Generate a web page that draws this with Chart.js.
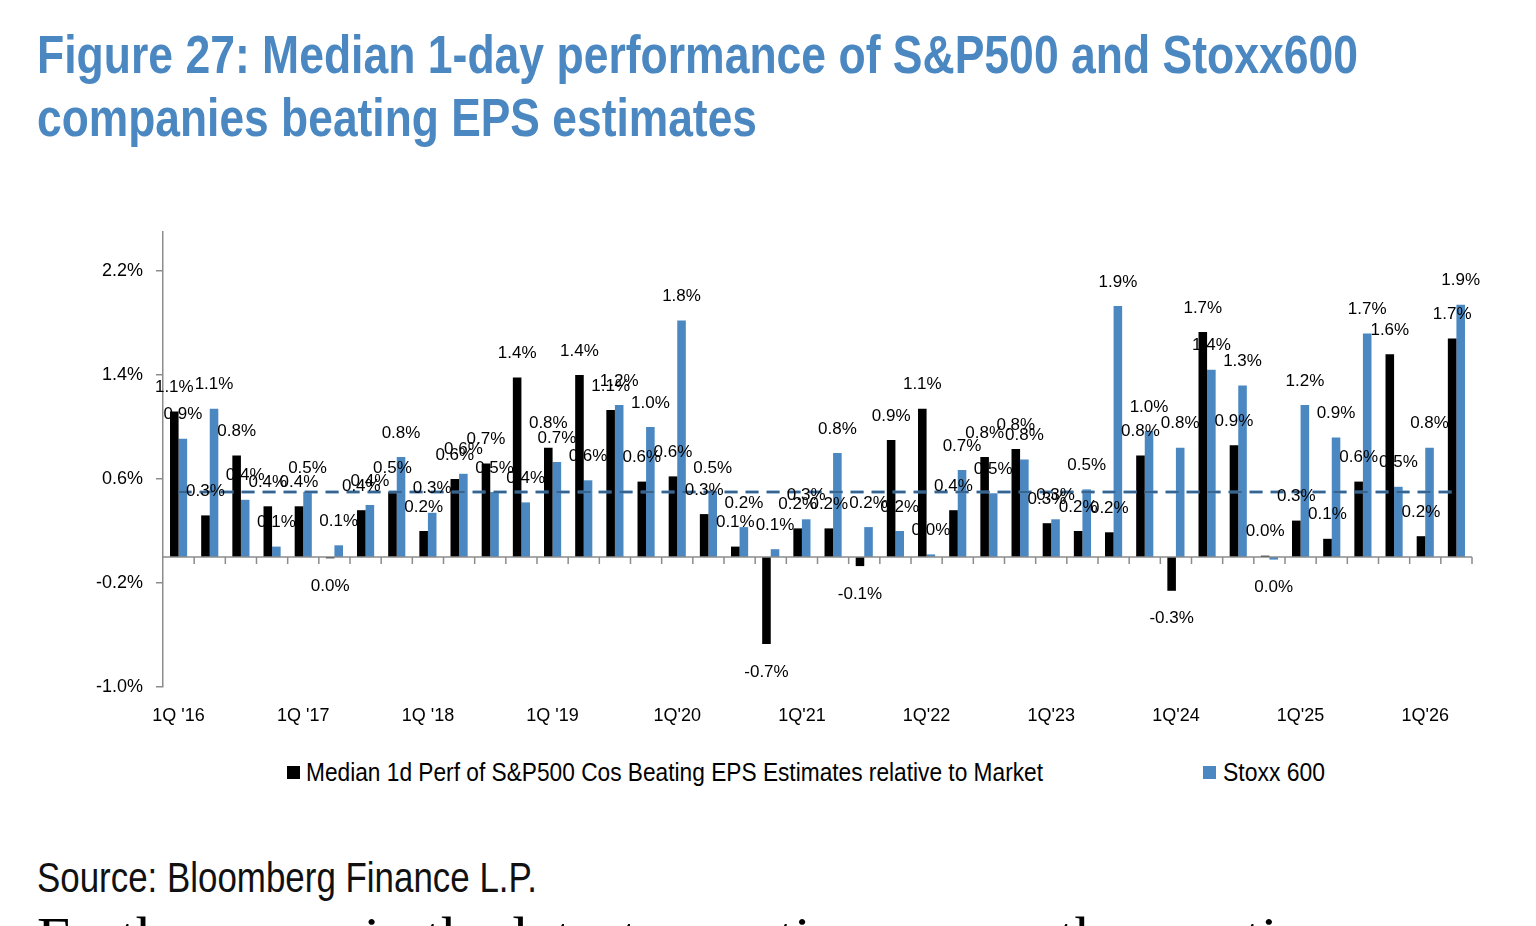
<!DOCTYPE html>
<html>
<head>
<meta charset="utf-8">
<script src="https://cdn.jsdelivr.net/npm/chart.js@4.4.1/dist/chart.umd.min.js"></script>
<style>
  html, body { margin: 0; padding: 0; background: #fff; }
  body { width: 1536px; height: 926px; position: relative; overflow: hidden; }
  .narrow {
    position: absolute;
    white-space: nowrap;
    font-family: "Liberation Sans Narrow", "Arial Narrow", "Liberation Sans", Arial, sans-serif;
    transform-origin: 0 50%;
  }
  .title { left: 37px; color: #4b88c2; font-weight: bold; font-size: 54px; line-height: 54px; }
  .legend { font-size: 26px; line-height: 26px; color: #000; top: 759px; }
  .legsq { position: absolute; width: 13px; height: 13px; top: 766px; }
  #source { left: 37px; top: 857px; font-size: 42px; line-height: 42px; color: #111; }
  #below {
    position: absolute; left: 37px; top: 910px; white-space: nowrap; transform-origin: 0 50%;
    font-family: "Liberation Serif", "Times New Roman", serif; font-size: 54px; line-height: 54px; color: #000;
  }
  #chart { position: absolute; left: 0; top: 200px; }
</style>
</head>
<body>
<div id="t1" class="narrow title" style="top:27px">Figure 27: Median 1-day performance of S&amp;P500 and Stoxx600</div>
<div id="t2" class="narrow title" style="top:90px">companies beating EPS estimates</div>
<canvas id="chart" width="1500" height="545"></canvas>
<div id="source" class="narrow">Source: Bloomberg Finance L.P.</div>
<div id="below">Furthermore, in the latest reporting season the reaction</div>

<script>
// quarters 1Q'16 .. 2Q'26
var quarters = [
  "1Q '16", "2Q '16", "3Q '16", "4Q '16",
  "1Q '17", "2Q '17", "3Q '17", "4Q '17",
  "1Q '18", "2Q '18", "3Q '18", "4Q '18",
  "1Q '19", "2Q '19", "3Q '19", "4Q '19",
  "1Q'20", "2Q'20", "3Q'20", "4Q'20",
  "1Q'21", "2Q'21", "3Q'21", "4Q'21",
  "1Q'22", "2Q'22", "3Q'22", "4Q'22",
  "1Q'23", "2Q'23", "3Q'23", "4Q'23",
  "1Q'24", "2Q'24", "3Q'24", "4Q'24",
  "1Q'25", "2Q'25", "3Q'25", "4Q'25",
  "1Q'26", "2Q'26"
];

// median 1d perf (%) of beats relative to market
var spxBeat = [
  1.12, 0.32, 0.78, 0.39, 0.39, -0.01, 0.36, 0.50,
  0.20, 0.60, 0.72, 1.38, 0.84, 1.40, 1.13, 0.58,
  0.62, 0.33, 0.08, -0.67, 0.22, 0.22, -0.07, 0.90,
  1.14, 0.36, 0.77, 0.83, 0.26, 0.20, 0.19, 0.78,
  -0.26, 1.73, 0.86, 0.01, 0.28, 0.14, 0.58, 1.56,
  0.16, 1.68
];
var stoxxBeat = [
  0.91, 1.14, 0.44, 0.08, 0.50, 0.09, 0.40, 0.77,
  0.34, 0.64, 0.50, 0.42, 0.73, 0.59, 1.17, 1.00,
  1.82, 0.50, 0.23, 0.06, 0.29, 0.80, 0.23, 0.20,
  0.02, 0.67, 0.49, 0.75, 0.29, 0.52, 1.93, 0.97,
  0.84, 1.44, 1.32, -0.02, 1.17, 0.92, 1.72, 0.54,
  0.84, 1.94
];
var avgLevel = 0.5;
var yTicks = [-1.0, -0.2, 0.6, 1.4, 2.2];

var seriesNames = ['Median 1d Perf of S&P500 Cos Beating EPS Estimates relative to Market', 'Stoxx 600'];
var seriesColors = ['#000000', '#4b88c2'];

Chart.defaults.font.family = '"Liberation Sans", Arial, sans-serif';
Chart.defaults.color = '#000';

// axis line at zero with small ticks between quarters
var zeroAxis = {
  id: 'zeroAxis',
  afterDatasetsDraw: function(chart) {
    var ctx = chart.ctx, x = chart.scales.x, y = chart.scales.y, area = chart.chartArea;
    var y0 = y.getPixelForValue(0);
    ctx.save();
    ctx.strokeStyle = '#8c8c8c';
    ctx.lineWidth = 1.5;
    ctx.beginPath();
    ctx.moveTo(area.left, y0);
    ctx.lineTo(area.right, y0);
    for (var i = 1; i <= quarters.length; i++) {
      var bx = i < quarters.length ? (x.getPixelForValue(i - 1) + x.getPixelForValue(i)) / 2 : area.right;
      ctx.moveTo(bx, y0);
      ctx.lineTo(bx, y0 + 7);
    }
    ctx.stroke();
    ctx.restore();
  }
};

// value labels over / under each bar
var barLabels = {
  id: 'barLabels',
  afterDatasetsDraw: function(chart) {
    var ctx = chart.ctx;
    ctx.save();
    ctx.font = '17px "Liberation Sans", Arial, sans-serif';
    ctx.fillStyle = '#000';
    ctx.textAlign = 'center';
    ctx.textBaseline = 'middle';
    [0, 1].forEach(function(di) {
      var vals = chart.data.datasets[di].data;
      chart.getDatasetMeta(di).data.forEach(function(bar, i) {
        var v = vals[i];
        var r = Math.round(v * 10) / 10;
        var txt = (r === 0 ? '0.0' : r.toFixed(1)) + '%';
        ctx.fillText(txt, bar.x, v >= 0 ? bar.y - 24 : bar.y + 28);
      });
    });
    ctx.restore();
  }
};

var avgPoints = [{ x: quarters[0], y: avgLevel }, { x: quarters[quarters.length - 1], y: avgLevel }];

new Chart(document.getElementById('chart').getContext('2d'), {
  type: 'bar',
  data: {
    labels: quarters,
    datasets: [
      { label: seriesNames[0], data: spxBeat, backgroundColor: seriesColors[0],
        categoryPercentage: 0.55, barPercentage: 1.0, order: 2 },
      { label: seriesNames[1], data: stoxxBeat, backgroundColor: seriesColors[1],
        categoryPercentage: 0.55, barPercentage: 1.0, order: 2 },
      { type: 'line', label: 'avg', data: avgPoints, borderColor: '#4b88c2', borderWidth: 3,
        borderDash: [13, 8], pointRadius: 0, order: 1 },
      { type: 'line', label: 'avg2', data: avgPoints, borderColor: '#2a3f55', borderWidth: 1,
        borderDash: [13, 8], pointRadius: 0, order: 0 }
    ]
  },
  options: {
    responsive: false,
    animation: false,
    layout: { padding: { top: 32, right: 28, left: 0, bottom: 0 } },
    plugins: { legend: { display: false }, tooltip: { enabled: false } },
    scales: {
      x: {
        grid: { display: false, drawTicks: false },
        border: { display: false },
        ticks: {
          autoSkip: false, maxRotation: 0, minRotation: 0, padding: 18,
          font: { size: 18 }, color: '#000',
          callback: function(v, i) { return i % 4 === 0 ? this.getLabelForValue(v) : ''; }
        },
        afterFit: function(s) { s.height = 58; }
      },
      y: {
        min: -1.0, max: 2.5,
        afterBuildTicks: function(s) { s.ticks = yTicks.map(function(v) { return { value: v }; }); },
        grid: { display: true, drawOnChartArea: false, drawTicks: true, tickLength: 7, color: '#8c8c8c', lineWidth: 1.5 },
        border: { display: true, color: '#8c8c8c', width: 1.5 },
        ticks: { padding: 13, font: { size: 18 }, color: '#000',
          callback: function(v) { return v.toFixed(1) + '%'; } },
        afterFit: function(s) { s.width = 163; }
      }
    }
  },
  plugins: [zeroAxis, barLabels]
});

// html legend
var legPos = [[287, 306, 737], [1203, 1223, 102]];
seriesNames.forEach(function(name, i) {
  var sq = document.createElement('div');
  sq.className = 'legsq';
  sq.style.left = legPos[i][0] + 'px';
  sq.style.background = seriesColors[i];
  document.body.appendChild(sq);
  var tx = document.createElement('div');
  tx.className = 'narrow legend';
  tx.id = 'leg' + i;
  tx.style.left = legPos[i][1] + 'px';
  tx.textContent = name;
  document.body.appendChild(tx);
});

// squeeze texts to the widths of the narrow font in the figure
function fitWidth(id, target) {
  var el = document.getElementById(id);
  var w = el.getBoundingClientRect().width;
  if (w > 0) el.style.transform = 'scaleX(' + (target / w) + ')';
}
fitWidth('t1', 1321);
fitWidth('t2', 720);
fitWidth('source', 500);
fitWidth('leg0', 737);
fitWidth('leg1', 102);
fitWidth('below', 1300);
</script>
</body>
</html>
